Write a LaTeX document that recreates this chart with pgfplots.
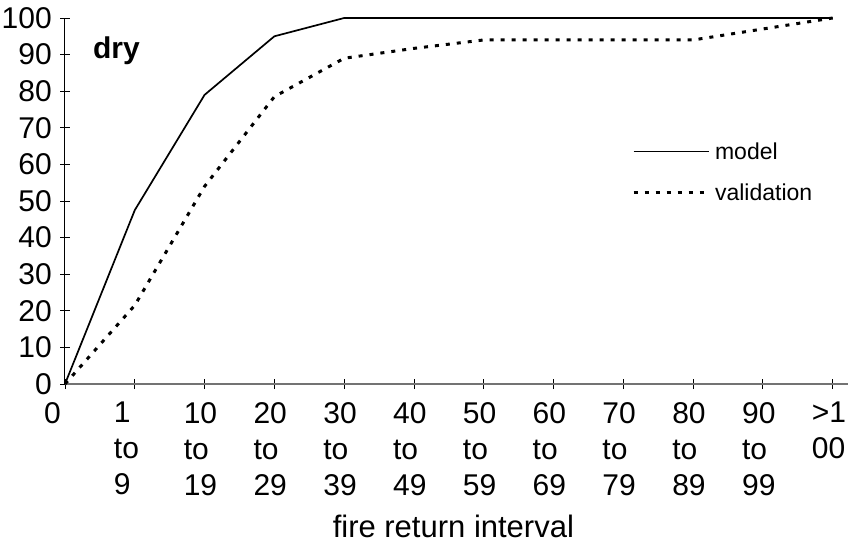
\documentclass[border=0pt]{standalone}
\usepackage{fontspec}
\setmainfont{Liberation Sans}
\usepackage{pgfplots}
\pgfplotsset{compat=1.18}
\begin{document}
\begin{tikzpicture}
\useasboundingbox (-65pt,-160pt) rectangle (788pt,384pt);
\begin{axis}[
  scale only axis, width=783pt, height=366pt,
  xmin=0, xmax=11.22, ymin=0, ymax=100,
  clip=false,
  axis x line=bottom, axis y line=left, axis line style={-},
  x axis line style={black!55, line width=1.6pt},
  y axis line style={black, line width=1pt},
  tick align=center, major tick length=10pt,
  tick style={black, line width=0.8pt},
  xtick={0,1,...,11},
  xticklabels={0,1\\to\\9,10\\to\\19,20\\to\\29,30\\to\\39,40\\to\\49,50\\to\\59,60\\to\\69,70\\to\\79,80\\to\\89,90\\to\\99,>1\\00},
  xticklabel style={font=\fontsize{30}{36}\selectfont, align=left, anchor=north west, inner sep=0pt, xshift=-21pt, yshift=-13pt},
  ytick={0,10,...,100},
  yticklabel style={font=\fontsize{30}{36}\selectfont, anchor=east, inner sep=0pt, xshift=-8pt},
  /pgf/number format/assume math mode=true,
  xlabel={fire return interval},
  xlabel style={font=\fontsize{31}{31}\selectfont, at={(axis description cs:0.496,0)}, anchor=base, yshift=-153pt},
  legend cell align=left,
  legend style={draw=none, fill=none, inner sep=0pt, row sep=23pt, font=\fontsize{23}{23}\selectfont, at={(axis cs:8.123,57.9)}, anchor=west, nodes={inner sep=0pt}, /tikz/column sep=5pt},
  legend image code/.code={\draw[#1] (0pt,0pt) -- (75pt,0pt);},
]
\addplot[black, line width=1.7pt] coordinates {(0,0)(1,47.5)(2,79)(3,95)(4,100)(5,100)(6,100)(7,100)(8,100)(9,100)(10,100)(11,100)};
\addlegendentry{model}
\addplot[black, line width=3pt, dash pattern=on 4pt off 7pt] coordinates {(0,0)(1,21.5)(2,54)(3,78.5)(4,89)(5,91.7)(6,94)(7,94)(8,94)(9,94)(10,97)(11,100)};
\addlegendentry{validation}
\node[anchor=base west, inner sep=0pt, font=\fontsize{30}{30}\selectfont\bfseries] at (axis cs:0.40,89) {dry};
\end{axis}
\end{tikzpicture}
\end{document}
